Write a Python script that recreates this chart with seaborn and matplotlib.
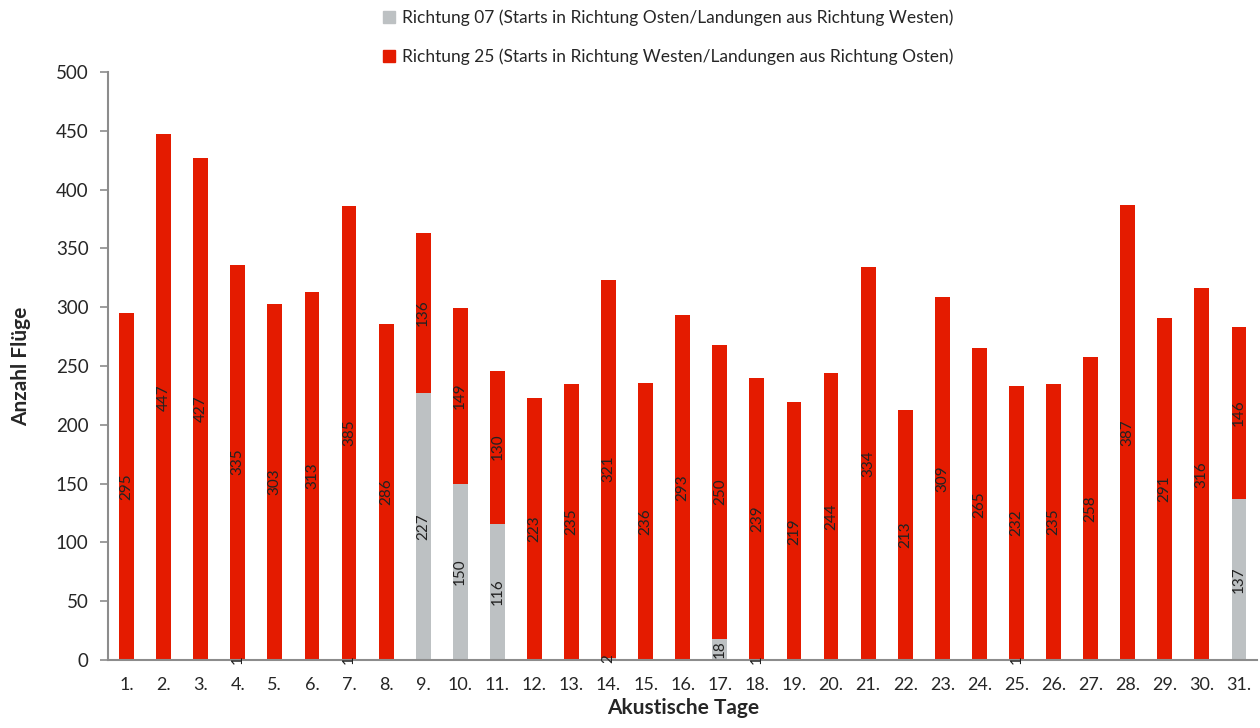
import numpy as np
import pandas as pd
import matplotlib
matplotlib.use("Agg")
import matplotlib.pyplot as plt
import seaborn as sns
from matplotlib.patches import Patch

days = [f"{i}." for i in range(1, 32)]
rw25 = [295, 447, 427, 335, 303, 313, 385, 286, 136, 149, 130, 223, 235, 321, 236,
        293, 250, 239, 219, 244, 334, 213, 309, 265, 232, 235, 258, 387, 291, 316, 146]
rw07 = [0, 0, 0, 1, 0, 0, 1, 0, 227, 150, 116, 0, 0, 2, 0,
        0, 18, 1, 0, 0, 0, 0, 0, 0, 1, 0, 0, 0, 0, 0, 137]
label07 = "Richtung 07 (Starts in Richtung Osten/Landungen aus Richtung Westen)"
label25 = "Richtung 25 (Starts in Richtung Westen/Landungen aus Richtung Osten)"

RED = "#E41B00"
GREY = "#BDC1C3"
AX = "#8C8C8C"

df = pd.DataFrame({"day": days, "r25": rw25, "r07": rw07})
df["total"] = df["r25"] + df["r07"]

sns.set_theme(style="white")
plt.rcParams["font.family"] = ["Lato", "DejaVu Sans"]

fig = plt.figure(figsize=(12.6, 7.28), dpi=100)
ax = fig.add_axes([0.0857, 0.0934, 0.9123, 0.8076])

# stacked: red = total, grey drawn on top from 0
sns.barplot(data=df, x="day", y="total", color=RED, width=0.4, saturation=1,
            linewidth=0, ax=ax, order=days)
sns.barplot(data=df, x="day", y="r07", color=GREY, width=0.4, saturation=1,
            linewidth=0, ax=ax, order=days)

for i, (a, b) in enumerate(zip(rw07, rw25)):
    ax.text(i, a + b / 2, str(b), rotation=90, ha="center", va="center", fontsize=11, color="#222222")
    if a > 0:
        ax.text(i, a / 2, str(a), rotation=90, ha="center", va="center", fontsize=11, color="#222222")

ax.set_xlim(-0.5, 30.5)
ax.set_ylim(0, 500)
ax.set_yticks(range(0, 501, 50))
ax.set_xticks(range(31))
ax.set_xticklabels(days)
ax.set_xticks(np.arange(-0.5, 31, 1), minor=True)
ax.tick_params(axis="x", which="major", length=0, pad=12, labelsize=13)
ax.tick_params(axis="x", which="minor", length=6, color=AX, width=1.2, direction="out")
ax.tick_params(axis="y", length=6, color=AX, width=1.2, direction="out", labelsize=13.5, pad=8, left=True)

for s in ["top", "right"]:
    ax.spines[s].set_visible(False)
for s in ["left", "bottom"]:
    ax.spines[s].set_color(AX)
    ax.spines[s].set_linewidth(1.5)

ax.set_xlabel("Akustische Tage", fontsize=15, fontweight="bold", labelpad=4)
ax.set_ylabel("Anzahl Flüge", fontsize=15, fontweight="bold", labelpad=18)

handles = [Patch(color=GREY, label=label07), Patch(color=RED, label=label25)]
fig.legend(handles=handles, loc="upper center", bbox_to_anchor=(0.53, 1.008), ncol=1,
           frameon=False, fontsize=12.5, handlelength=0.7, handleheight=0.7,
           handletextpad=0.4, labelspacing=1.3)

fig.savefig("out.png", dpi=100)
